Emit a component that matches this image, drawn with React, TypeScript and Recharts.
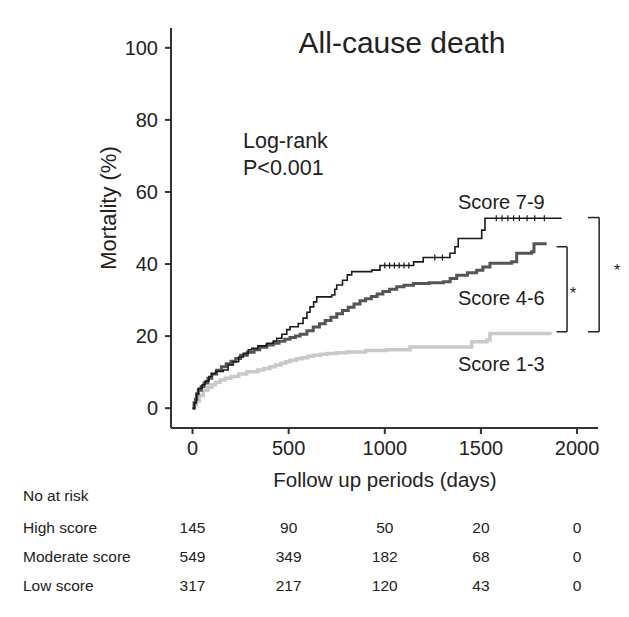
import {
  ComposedChart,
  Line,
  Scatter,
  XAxis,
  YAxis,
  ReferenceLine,
} from "recharts";

// [day, mortality %] step points
const score79: [number, number][] = [
  [0, 0], [10, 1.5], [20, 4], [30, 5.5], [50, 6.5], [65, 7.5], [85, 8.8], [100, 9.6],
  [120, 10.2], [160, 10.6], [185, 12], [212, 12.9], [240, 14.2], [264, 15.2], [290, 16.2],
  [308, 16.6], [340, 17.3], [386, 18], [420, 18.6], [438, 19.4], [465, 20.5], [490, 21.8],
  [507, 22.6], [550, 23.5], [575, 25], [595, 26.6], [611, 28.1], [630, 29.5], [646, 30.9],
  [724, 31.4], [740, 33], [750, 34.2], [780, 35.5], [805, 37], [828, 37.9], [932, 38.3],
  [975, 39.6], [1150, 40.6], [1200, 41.8], [1339, 43], [1365, 44.8], [1382, 47.1],
  [1504, 49.4], [1521, 52.7], [1920, 52.7],
];

const score46: [number, number][] = [
  [0, 0], [8, 1.5], [15, 2.5], [22, 4], [30, 5], [45, 6], [60, 7], [80, 8.3], [100, 9.5],
  [125, 10.5], [150, 11.5], [175, 12.3], [200, 13], [225, 13.8], [250, 14.7], [285, 15.5],
  [320, 16.2], [350, 16.9], [386, 17.5], [420, 18], [450, 18.6], [480, 19.1], [507, 19.6],
  [535, 20], [560, 20.5], [595, 21.5], [628, 22.5], [660, 23.4], [690, 24.3], [720, 25.2],
  [750, 26.2], [780, 27.1], [810, 28], [840, 28.9], [871, 29.8], [900, 30.4], [930, 31],
  [960, 31.7], [990, 32.4], [1025, 33], [1062, 33.7], [1100, 34.1], [1149, 34.6],
  [1230, 34.8], [1305, 35.1], [1340, 36], [1374, 36.9], [1430, 37.6], [1478, 38.3],
  [1510, 39.2], [1547, 40.2], [1660, 40.6], [1686, 43], [1764, 43.4], [1776, 45.6],
  [1842, 45.6],
];

const score13: [number, number][] = [
  [0, 0], [10, 1], [20, 2], [35, 3.5], [56, 5], [80, 5.8], [100, 6.5], [120, 7.2],
  [143, 7.8], [170, 8.3], [200, 8.8], [240, 9.5], [282, 10.1], [340, 10.6], [370, 11],
  [403, 11.5], [430, 12], [460, 12.5], [485, 12.9], [507, 13.3], [540, 13.7], [570, 14],
  [600, 14.4], [628, 14.7], [665, 15], [700, 15.2], [750, 15.4], [802, 15.6], [900, 16],
  [1010, 16.2], [1131, 17], [1426, 17], [1452, 18.4], [1530, 18.9], [1547, 20.7],
  [1868, 20.7],
];

// censoring marks on the score 7-9 curve
const censor79: [number, number][] = [
  [1000, 39.6], [1025, 39.6], [1050, 39.6], [1075, 39.6], [1100, 39.6], [1125, 39.6],
  [1260, 41.8], [1300, 41.8], [1580, 52.7], [1610, 52.7], [1640, 52.7], [1670, 52.7],
  [1700, 52.7], [1740, 52.7], [1780, 52.7], [1830, 52.7],
];

const xTicks = [0, 500, 1000, 1500, 2000];
const yTicks = [0, 20, 40, 60, 80, 100];

const riskGroups = ["High score", "Moderate score", "Low score"];
const riskHigh = [145, 90, 50, 20, 0];
const riskModerate = [549, 349, 182, 68, 0];
const riskLow = [317, 217, 120, 43, 0];

const X_MIN = -112;
const X_MAX = 2109;
const PLOT_LEFT = 171;
const PLOT_RIGHT = 598;

const toRows = (pts: [number, number][]) => pts.map(([day, v]) => ({ day, v }));

const FONT = "'Liberation Sans', Arial, sans-serif";
const INK = "#222";

const xPx = (day: number) =>
  PLOT_LEFT + ((day - X_MIN) / (X_MAX - X_MIN)) * (PLOT_RIGHT - PLOT_LEFT);

const CensorTick = (props: any) => {
  const { cx, cy } = props;
  if (cx == null || cy == null) return null;
  return <line x1={cx} x2={cx} y1={cy - 3} y2={cy + 3} stroke="#1a1a1a" strokeWidth={1.2} />;
};

export default function App() {
  const riskRows = [riskHigh, riskModerate, riskLow];
  return (
    <div style={{ position: "absolute", left: 0, top: 0, width: 629, height: 617, background: "#fff" }}>
      <ComposedChart
        width={629}
        height={617}
        margin={{ top: 28, right: 31, bottom: 149, left: 111 }}
        style={{ fontFamily: FONT }}
      >
        <XAxis
          dataKey="day"
          type="number"
          domain={[X_MIN, X_MAX]}
          ticks={xTicks}
          allowDataOverflow
          height={40}
          tickSize={6}
          tickMargin={7}
          axisLine={{ stroke: "#333", strokeWidth: 2 }}
          tickLine={{ stroke: "#333", strokeWidth: 2 }}
          tick={{ fill: INK, fontSize: 20, fontFamily: FONT }}
        />
        <YAxis
          type="number"
          domain={[-5.5, 105.5]}
          ticks={yTicks}
          allowDataOverflow
          width={60}
          tickSize={6}
          tickMargin={7}
          axisLine={{ stroke: "#333", strokeWidth: 2 }}
          tickLine={{ stroke: "#333", strokeWidth: 2 }}
          tick={{ fill: INK, fontSize: 20, fontFamily: FONT }}
        />
        <Line
          data={toRows(score13)}
          dataKey="v"
          type="stepAfter"
          stroke="#c9c9c9"
          strokeWidth={3.5}
          dot={false}
          isAnimationActive={false}
        />
        <Line
          data={toRows(score46)}
          dataKey="v"
          type="stepAfter"
          stroke="#555"
          strokeWidth={3}
          dot={false}
          isAnimationActive={false}
        />
        <Line
          data={toRows(score79)}
          dataKey="v"
          type="stepAfter"
          stroke="#1a1a1a"
          strokeWidth={1.6}
          dot={false}
          isAnimationActive={false}
        />
        <Scatter
          data={toRows(censor79)}
          dataKey="v"
          shape={<CensorTick />}
          isAnimationActive={false}
        />
        {/* significance brackets */}
        <ReferenceLine segment={[{ x: 1894, y: 44.8 }, { x: 1948, y: 44.8 }]} stroke={INK} strokeWidth={1.5} ifOverflow="visible" />
        <ReferenceLine segment={[{ x: 1948, y: 44.8 }, { x: 1948, y: 21.2 }]} stroke={INK} strokeWidth={1.5} ifOverflow="visible" />
        <ReferenceLine segment={[{ x: 1894, y: 21.2 }, { x: 1948, y: 21.2 }]} stroke={INK} strokeWidth={1.5} ifOverflow="visible" />
        <ReferenceLine segment={[{ x: 2057, y: 52.9 }, { x: 2115, y: 52.9 }]} stroke={INK} strokeWidth={1.5} ifOverflow="visible" />
        <ReferenceLine segment={[{ x: 2115, y: 52.9 }, { x: 2115, y: 21.2 }]} stroke={INK} strokeWidth={1.5} ifOverflow="visible" />
        <ReferenceLine segment={[{ x: 2057, y: 21.2 }, { x: 2115, y: 21.2 }]} stroke={INK} strokeWidth={1.5} ifOverflow="visible" />
      </ComposedChart>

      <svg
        width={629}
        height={617}
        style={{ position: "absolute", left: 0, top: 0, pointerEvents: "none", fontFamily: FONT }}
      >
        <text x={402} y={53} textAnchor="middle" fontSize={30} fill={INK}>All-cause death</text>
        <text x={243} y={148} fontSize={21.5} fill={INK}>Log-rank</text>
        <text x={243} y={175} fontSize={21.5} fill={INK}>P&lt;0.001</text>
        <text x={458} y={209} fontSize={20} fill={INK}>Score 7-9</text>
        <text x={458} y={305} fontSize={20} fill={INK}>Score 4-6</text>
        <text x={458} y={371} fontSize={20} fill={INK}>Score 1-3</text>
        <text x={573} y={299} textAnchor="middle" fontSize={16} fill={INK}>*</text>
        <text x={617} y={276} textAnchor="middle" fontSize={16} fill={INK}>*</text>
        <text
          x={116}
          y={208}
          textAnchor="middle"
          fontSize={22}
          fill={INK}
          transform="rotate(-90 116 208)"
        >
          Mortality (%)
        </text>
        <text x={385} y={487} textAnchor="middle" fontSize={20.5} fill={INK}>Follow up periods (days)</text>
        <text x={23} y={501} fontSize={15.5} fill={INK}>No at risk</text>
        {riskGroups.map((g, i) => (
          <g key={g}>
            <text x={23} y={533 + i * 29} fontSize={15.5} fill={INK}>{g}</text>
            {riskRows[i].map((n, j) => (
              <text key={j} x={xPx(xTicks[j])} y={533 + i * 29} textAnchor="middle" fontSize={15.5} fill={INK}>
                {n}
              </text>
            ))}
          </g>
        ))}
      </svg>
    </div>
  );
}
